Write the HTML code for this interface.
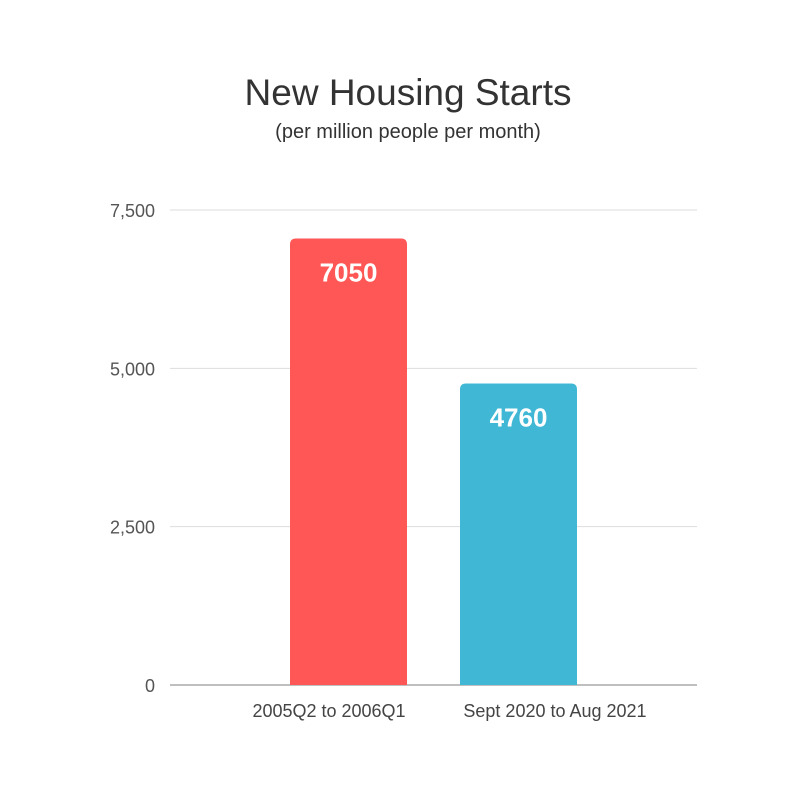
<!DOCTYPE html>
<html><head><meta charset="utf-8"><style>
body{margin:0;background:#fff;}
svg{display:block;font-family:"Liberation Sans",sans-serif;}
</style></head><body>
<svg width="800" height="800" viewBox="0 0 800 800">
<rect width="800" height="800" fill="#fff"/>
<text x="408" y="105" text-anchor="middle" font-size="37" fill="#333" font-weight="300">New Housing Starts</text>
<text x="408" y="138" text-anchor="middle" font-size="20" fill="#333">(per million people per month)</text>
<g id="grid"></g><g id="bars"></g><g id="labels"></g>
</svg>
<script>
const categories=["2005Q2 to 2006Q1","Sept 2020 to Aug 2021"];
const values=[7050,4760];
const colors=["#ff5656","#40b8d5"];
const ticks=[0,2500,5000,7500];
const tickLabels=["0","2,500","5,000","7,500"];
const labelCenters=[329,555];
const NS="http://www.w3.org/2000/svg";
const y=v=>685-v*475/7500;
const x=i=>290+i*170;
const bw=117;
function mk(t,a,p){const e=document.createElementNS(NS,t);for(const k in a)e.setAttribute(k,a[k]);p.appendChild(e);return e;}
const grid=document.getElementById('grid'),bars=document.getElementById('bars'),labels=document.getElementById('labels');
ticks.forEach((t,i)=>{
 const l=mk('line',{x1:170,x2:697,y1:y(t),y2:y(t),stroke:t===0?'#aaa':'#ddd','stroke-width':t===0?1.5:1},grid);
 
 
 const tx=mk('text',{x:155,y:y(t)+7,'text-anchor':'end','font-size':18,fill:'#555'},grid);
 tx.textContent=tickLabels[i];
 
 
});
values.forEach((v,i)=>{
 const x0=x(i),y0=y(v),y1=y(0),r=6;
 const p=mk('path',{d:`M${x0},${y1}V${y0+r}Q${x0},${y0} ${x0+r},${y0}H${x0+bw-r}Q${x0+bw},${y0} ${x0+bw},${y0+r}V${y1}Z`,fill:colors[i]},bars);
 
 
 const vt=mk('text',{x:x0+bw/2,y:y0+43,'text-anchor':'middle','font-size':26,'font-weight':'bold',fill:'#fff'},labels);
 vt.textContent=String(v);
 
 
 const ct=mk('text',{x:labelCenters[i],y:717,'text-anchor':'middle','font-size':18,fill:'#444'},labels);
 ct.textContent=categories[i];
 
 
});
</script>
</body></html>
